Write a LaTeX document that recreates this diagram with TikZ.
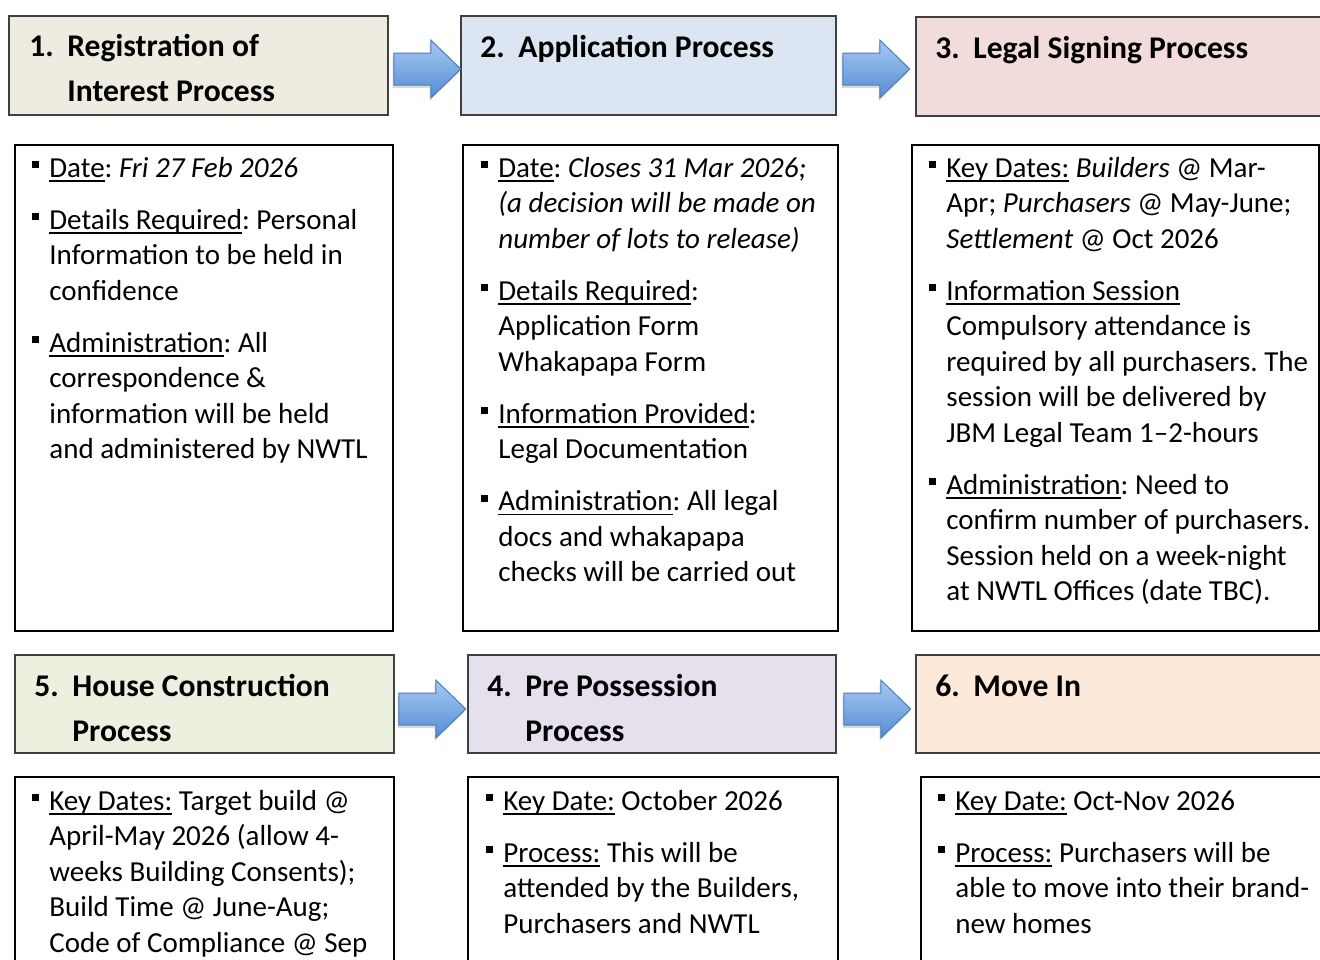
\documentclass[tikz,border=0pt]{standalone}
\usepackage{fontspec}
\setmainfont{Carlito}
\usetikzlibrary{fit,calc,shadows}
\definecolor{hOne}{RGB}{238,236,225}
\definecolor{hTwo}{RGB}{220,230,242}
\definecolor{hThree}{RGB}{242,220,219}
\definecolor{hFive}{RGB}{235,241,222}
\definecolor{hFour}{RGB}{229,224,236}
\definecolor{hSix}{RGB}{253,233,217}
\definecolor{arTop}{RGB}{166,200,242}
\definecolor{arBot}{RGB}{84,141,212}
\definecolor{arEdge}{RGB}{74,126,187}
\newcommand\bodyfont{\fontsize{14.5pt}{17.75pt}\selectfont\frenchspacing}
\newcommand\ttlfont{\fontsize{15.8pt}{22.5pt}\selectfont\bfseries}
\newcommand\bul{\leavevmode\llap{\rule[4.3pt]{3.6pt}{3.6pt}\hspace{5pt}}}
\newsavebox\ulbox
\newcommand\myul[1]{\sbox\ulbox{#1}\rlap{\rule[-2.4pt]{\wd\ulbox}{0.7pt}}\usebox{\ulbox}}
\newcommand\pg{\\[8.25pt]}
\newcommand\numb[1]{\makebox[19pt][l]{#1}}
\tikzset{
  hdr/.style={draw=black!75, line width=0.75pt, inner sep=0pt},
  cbox/.style={draw=black, line width=1pt, inner sep=0pt},
  body/.style={anchor=base west, inner sep=0pt, font=\bodyfont},
  ttl/.style={anchor=base west, inner sep=0pt, font=\ttlfont},
  arrowfill/.style={top color=arTop, bottom color=arBot, draw=arEdge, line width=0.5pt,
    drop shadow={shadow xshift=-0.6pt, shadow yshift=-1.5pt, opacity=0.25, fill=black!60}},
  blockarrow/.pic={\path[arrowfill] (0,-16) -- (37,-16) -- (37,-29) -- (67,0) -- (37,29) -- (37,16) -- (0,16) -- cycle;}
}
\begin{document}
\begin{tikzpicture}[x=0.5pt,y=-0.5pt]
\useasboundingbox (0,0) rectangle (1320,959);
% header boxes
\node[hdr, fill=hOne,   fit={(9,16) (388,115)}]   (h1) {};
\node[hdr, fill=hTwo,   fit={(461,16) (836,115)}] (h2) {};
\node[hdr, fill=hThree, fit={(916,17) (1330,116)}] (h3) {};
\node[hdr, fill=hFive,  fit={(15,655) (394,753)}] (h5) {};
\node[hdr, fill=hFour,  fit={(468,655) (836,753)}] (h4) {};
\node[hdr, fill=hSix,   fit={(916,655) (1330,753)}] (h6) {};
% content boxes
\node[cbox, fit={(15,145) (393,631)}]   (c1) {};
\node[cbox, fit={(463,145) (838,631)}]  (c2) {};
\node[cbox, fit={(912,145) (1319,631)}] (c3) {};
\node[cbox, fit={(15,777) (394,975)}]   (c5) {};
\node[cbox, fit={(468,777) (838,975)}]  (c4) {};
\node[cbox, fit={(921,777) (1330,975)}] (c6) {};
% block arrows
\pic at ($(h1.east)+(5,3.5)$) {blockarrow};
\pic at ($(h2.east)+(6,3.5)$) {blockarrow};
\pic at ($(h5.east)+(4,5)$) {blockarrow};
\pic at ($(h4.east)+(7,5)$) {blockarrow};
% titles
\node[ttl] (n1) at (29,56) {\parbox[t]{300pt}{\numb{1.}Registration of\\\hspace*{19pt}Interest Process}};
\node[ttl] (n2) at (480,57) {\parbox[t]{300pt}{\numb{2.}Application Process}};
\node[ttl] (n3) at (935,58) {\parbox[t]{300pt}{\numb{3.}Legal Signing Process}};
\node[ttl] (n5) at (34,696) {\parbox[t]{300pt}{\numb{5.}House Construction\\\hspace*{19pt}Process}};
\node[ttl] (n4) at (487,696) {\parbox[t]{300pt}{\numb{4.}Pre Possession\\\hspace*{19pt}Process}};
\node[ttl] (n6) at (935,696) {\parbox[t]{300pt}{\numb{6.}Move In}};
% body texts
\node[body] (t1) at (49,177) {\parbox[t]{260pt}{\raggedright
\bul\myul{Date}: \textit{Fri 27 Feb 2026}\pg
\bul\myul{Details Required}: Personal\\
Information to be held in\\
confidence\pg
\bul\myul{Administration}: All\\
correspondence \&\\
information will be held\\
and administered by NWTL}};
\node[body] (t2) at (498,177) {\parbox[t]{260pt}{\raggedright
\bul\myul{Date}: \textit{Closes 31 Mar 2026;}\\
\textit{(a decision will be made on}\\
\textit{number of lots to release)}\pg
\bul\myul{Details Required}:\\
Application Form\\
Whakapapa Form\pg
\bul\myul{Information Provided}:\\
Legal Documentation\pg
\bul\myul{Administration}: All legal\\
docs and whakapapa\\
checks will be carried out}};
\node[body] (t3) at (946,177) {\parbox[t]{260pt}{\raggedright
\bul\myul{Key Dates:} \textit{Builders} @ Mar-\\
Apr; \textit{Purchasers} @ May-June;\\
\textit{Settlement} @ Oct 2026\pg
\bul\myul{Information Session}\\
Compulsory attendance is\\
required by all purchasers. The\\
session will be delivered by\\
JBM Legal Team 1–2-hours\pg
\bul\myul{Administration}: Need to\\
confirm number of purchasers.\\
Session held on a week-night\\
at NWTL Offices (date TBC).}};
\node[body] (t5) at (49,810) {\parbox[t]{260pt}{\raggedright
\bul\myul{Key Dates:} Target build @\\
April-May 2026 (allow 4-\\
weeks Building Consents);\\
Build Time @ June-Aug;\\
Code of Compliance @ Sep}};
\node[body] (t4) at (503,810) {\parbox[t]{260pt}{\raggedright
\bul\myul{Key Date:} October 2026\pg
\bul\myul{Process:} This will be\\
attended by the Builders,\\
Purchasers and NWTL}};
\node[body] (t6) at (955,810) {\parbox[t]{260pt}{\raggedright
\bul\myul{Key Date:} Oct-Nov 2026\pg
\bul\myul{Process:} Purchasers will be\\
able to move into their brand-\\
new homes}};
\end{tikzpicture}
\end{document}
